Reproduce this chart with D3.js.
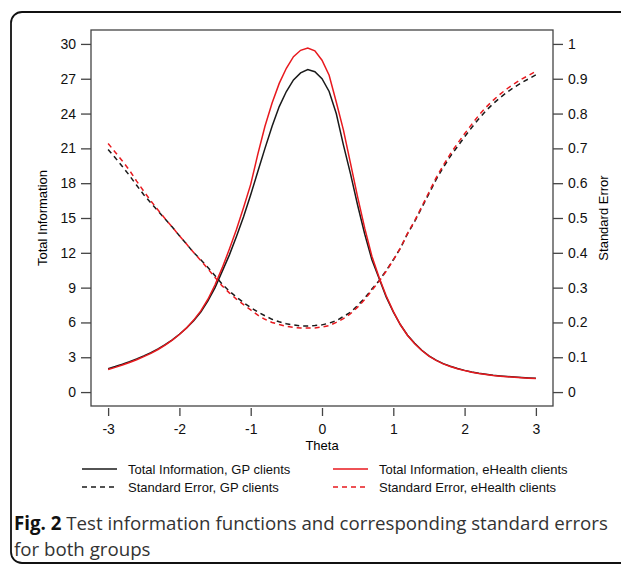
<!DOCTYPE html>
<html>
<head>
<meta charset="utf-8">
<script src="https://cdn.jsdelivr.net/npm/d3@7"></script>
<style>
  body { margin: 0; background: #fff; }
  svg { display: block; }
  text { font-family: Arial, 'Liberation Sans', sans-serif; }
  .axis text { font-size: 14px; fill: #111; }
</style>
</head>
<body>
<div id="chart"></div>
<script>
// theta grid, step 0.1
var theta = d3.range(61).map(function(i) { return +(-3 + i * 0.1).toFixed(1); });

// total information, GP clients
var infoGP = [2.02, 2.2, 2.4, 2.62, 2.86, 3.12, 3.4, 3.72, 4.08, 4.5,
  4.98, 5.52, 6.15, 6.9, 7.85, 9.0, 10.4, 11.8, 13.4, 15.1,
  17.0, 19.0, 21.0, 22.9, 24.6, 25.9, 26.9, 27.5, 27.8, 27.6,
  27.0, 25.9, 24.0, 21.3, 18.8, 16.1, 13.6, 11.4, 9.8, 8.2,
  6.9, 5.8, 4.9, 4.2, 3.6, 3.12, 2.75, 2.45, 2.22, 2.03,
  1.87, 1.73, 1.62, 1.53, 1.45, 1.39, 1.34, 1.29, 1.25, 1.22, 1.19];

// total information, eHealth clients
var infoEH = [1.95, 2.13, 2.33, 2.55, 2.79, 3.05, 3.34, 3.67, 4.04, 4.47,
  4.96, 5.53, 6.2, 7.0, 8.0, 9.25, 10.7, 12.3, 14.0, 15.9,
  17.9, 20.5, 22.9, 24.9, 26.6, 27.9, 28.9, 29.45, 29.65, 29.4,
  28.6, 27.3, 25.0, 22.6, 19.7, 16.8, 14.1, 11.7, 9.9, 8.3,
  6.95, 5.8, 4.88, 4.17, 3.58, 3.1, 2.73, 2.43, 2.2, 2.01,
  1.85, 1.71, 1.6, 1.51, 1.43, 1.37, 1.32, 1.27, 1.23, 1.2, 1.17];

// standard error, GP clients
var seGP = [0.697, 0.673, 0.648, 0.622, 0.594, 0.567, 0.543, 0.52, 0.497, 0.474,
  0.449, 0.425, 0.401, 0.38, 0.358, 0.334, 0.31, 0.29, 0.273, 0.257,
  0.243, 0.23, 0.219, 0.209, 0.202, 0.196, 0.193, 0.19, 0.19, 0.191,
  0.193, 0.198, 0.205, 0.217, 0.229, 0.249, 0.27, 0.296, 0.32, 0.349,
  0.38, 0.413, 0.455, 0.49, 0.53, 0.57, 0.61, 0.645, 0.677, 0.705,
  0.733, 0.76, 0.785, 0.808, 0.828, 0.846, 0.862, 0.876, 0.889, 0.9, 0.911];

// standard error, eHealth clients
var seEH = [0.714, 0.689, 0.664, 0.637, 0.606, 0.577, 0.549, 0.523, 0.498, 0.474,
  0.449, 0.425, 0.401, 0.378, 0.354, 0.329, 0.305, 0.285, 0.267, 0.251,
  0.236, 0.221, 0.209, 0.2, 0.194, 0.189, 0.186, 0.184, 0.184, 0.184,
  0.187, 0.191, 0.2, 0.211, 0.225, 0.244, 0.266, 0.292, 0.318, 0.347,
  0.379, 0.414, 0.456, 0.492, 0.533, 0.574, 0.615, 0.651, 0.684, 0.714,
  0.742, 0.769, 0.795, 0.818, 0.838, 0.856, 0.872, 0.886, 0.899, 0.91, 0.921];

var xTicks = [-3, -2, -1, 0, 1, 2, 3];
var infoTicks = [0, 3, 6, 9, 12, 15, 18, 21, 24, 27, 30];
var seTicks = [0, 0.1, 0.2, 0.3, 0.4, 0.5, 0.6, 0.7, 0.8, 0.9, 1];

var legendItems = [
  { label: "Total Information, GP clients", color: "#1a1a1a", dash: null, series: infoGP },
  { label: "Total Information, eHealth clients", color: "#e8191e", dash: null, series: infoEH },
  { label: "Standard Error, GP clients", color: "#1a1a1a", dash: "5,4", series: seGP },
  { label: "Standard Error, eHealth clients", color: "#e8191e", dash: "5,4", series: seEH }
];

var W = 621, H = 565;
var box = { left: 91, right: 553, top: 30, bottom: 406 };

var svg = d3.select("#chart").append("svg")
  .attr("width", W)
  .attr("height", H);

// outer frame of the figure panel
svg.append("rect")
  .attr("x", 11).attr("y", 12)
  .attr("width", 700).attr("height", 551)
  .attr("rx", 11).attr("ry", 11)
  .attr("fill", "none")
  .attr("stroke", "#111")
  .attr("stroke-width", 1.8);

// scales, R style 4% padding
var x = d3.scaleLinear().domain([-3.24, 3.24]).range([box.left, box.right]);
var yInfo = d3.scaleLinear().domain([-1.2, 31.2]).range([box.bottom, box.top]);
var ySE = d3.scaleLinear().domain([-0.04, 1.04]).range([box.bottom, box.top]);

var g = svg.append("g");

// curves
var lineInfo = function(vals) {
  return d3.line()
    .x(function(d, i) { return x(theta[i]); })
    .y(function(d) { return yInfo(d); })(vals);
};
var lineSE = function(vals) {
  return d3.line()
    .x(function(d, i) { return x(theta[i]); })
    .y(function(d) { return ySE(d); })(vals);
};

[legendItems[2], legendItems[0], legendItems[3], legendItems[1]].forEach(function(it) {
  var isSE = it.dash !== null;
  g.append("path")
    .attr("d", isSE ? lineSE(it.series) : lineInfo(it.series))
    .attr("fill", "none")
    .attr("stroke", it.color)
    .attr("stroke-width", 1.5)
    .attr("stroke-dasharray", it.dash);
});

// plot box
g.append("rect")
  .attr("x", box.left).attr("y", box.top)
  .attr("width", box.right - box.left).attr("height", box.bottom - box.top)
  .attr("fill", "none")
  .attr("stroke", "#444")
  .attr("stroke-width", 1.3);

// plain hyphen labels like R
var fmt = function(d) { return String(d); };

function tidy(s) {
  s.attr("font-size", 14).attr("font-family", null).attr("class", "axis");
  s.select(".domain").remove();
  s.selectAll(".tick line").attr("stroke", "#444").attr("stroke-width", 1.3);
}

// left axis
svg.append("g").attr("transform", "translate(" + box.left + ",0)")
  .call(d3.axisLeft(yInfo).tickValues(infoTicks).tickSize(10).tickPadding(5).tickFormat(fmt))
  .call(tidy);

// right axis
svg.append("g").attr("transform", "translate(" + box.right + ",0)")
  .call(d3.axisRight(ySE).tickValues(seTicks).tickSize(10).tickPadding(5).tickFormat(fmt))
  .call(tidy);

// bottom axis, ticks hanging under the box
svg.append("g").attr("transform", "translate(0," + (box.bottom + 2) + ")")
  .call(d3.axisBottom(x).tickValues(xTicks).tickSize(8).tickPadding(8).tickFormat(fmt))
  .call(tidy);

// axis titles
svg.append("text")
  .attr("x", 322).attr("y", 450)
  .attr("text-anchor", "middle")
  .style("font-size", "13px")
  .text("Theta");

svg.append("text")
  .attr("transform", "translate(47," + ((box.top + box.bottom) / 2) + ") rotate(-90)")
  .attr("text-anchor", "middle")
  .style("font-size", "13px")
  .text("Total Information");

svg.append("text")
  .attr("transform", "translate(608," + ((box.top + box.bottom) / 2) + ") rotate(-90)")
  .attr("text-anchor", "middle")
  .style("font-size", "13px")
  .text("Standard Error");

// legend: two columns, two rows
var legPos = [
  { x: 82, y: 469 }, { x: 333, y: 469 },
  { x: 82, y: 487 }, { x: 333, y: 487 }
];
legendItems.forEach(function(it, i) {
  var p = legPos[i];
  var lg = svg.append("g").attr("transform", "translate(" + p.x + "," + p.y + ")");
  lg.append("line")
    .attr("x1", 0).attr("x2", 35).attr("y1", 0).attr("y2", 0)
    .attr("stroke", it.color)
    .attr("stroke-width", 1.5)
    .attr("stroke-dasharray", it.dash ? "5,4" : null);
  lg.append("text")
    .attr("x", 46).attr("y", 4.5)
    .style("font-size", "13px")
    .attr("fill", "#111")
    .text(it.label);
});

// caption
var cap = svg.append("text")
  .attr("x", 14).attr("y", 530)
  .style("font-family", "'Open Sans', 'Noto Sans', sans-serif")
  .style("font-size", "18.7px")
  .attr("fill", "#333");
cap.append("tspan").style("font-weight", "bold").attr("fill", "#111").text("Fig. 2");
cap.append("tspan").text(" Test information functions and corresponding standard errors");

svg.append("text")
  .attr("x", 14).attr("y", 556)
  .style("font-family", "'Open Sans', 'Noto Sans', sans-serif")
  .style("font-size", "18.7px")
  .attr("fill", "#333")
  .text("for both groups");
</script>
</body>
</html>
